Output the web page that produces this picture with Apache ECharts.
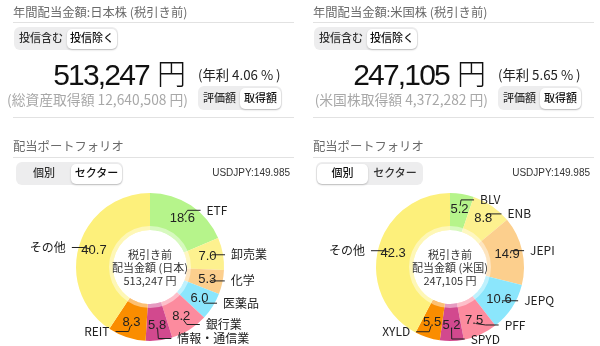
<!DOCTYPE html>
<html><head><meta charset="utf-8">
<script src="https://cdn.jsdelivr.net/npm/echarts@6/dist/echarts.min.js"></script>
<style>
html,body{margin:0;padding:0;width:600px;height:346px;overflow:hidden;background:#fff;font-family:"Noto Sans CJK JP","Noto Sans",sans-serif;color:#222;}
#chart{position:absolute;left:0;top:0;width:600px;height:346px;}
.t{position:absolute;white-space:nowrap;line-height:1;}
.hr{position:absolute;height:1px;background:#e2e2e2;}
.tg{position:absolute;background:#ededee;border-radius:6px;}
.sel{position:absolute;background:#fff;border-radius:5px;box-shadow:0 1px 2px rgba(0,0,0,0.22);}
.big{font-family:"Liberation Sans",Arial,sans-serif;font-size:30px;letter-spacing:-1.8px;color:#111;}
.big .yen{font-family:"Noto Sans CJK JP";font-size:29px;font-weight:300;letter-spacing:0;margin-left:8px;}
</style></head>
<body>
<div id="chart"></div>
<div id="ui"></div>
<script>
// ---- data ----
const jpNames  = ['ETF','卸売業','化学','医薬品','銀行業','情報・通信業','REIT','その他'];
const jpValues = [18.6, 7.0, 5.3, 6.0, 8.2, 5.8, 8.3, 40.7];
const usNames  = ['BLV','ENB','JEPI','JEPQ','PFF','SPYD','XYLD','その他'];
const usValues = [5.2, 8.8, 14.9, 10.6, 7.5, 5.2, 5.5, 42.3];
const sliceColors = ['#b6f48b','#fdf18f','#fccf8d','#8be6fc','#fc8b9e','#d2498e','#fa8d00','#fdf07b'];

const panels = [
  {ox:0, header:'年間配当金額:日本株 (税引き前)', big:'513,247', yieldText:'(年利 4.06 % )',
   sub:'(総資産取得額 12,640,508 円)', tab:'セクター', center:['税引き前','配当金額 (日本)','513,247 円'],
   names:jpNames, values:jpValues},
  {ox:300, header:'年間配当金額:米国株 (税引き前)', big:'247,105', yieldText:'(年利 5.65 % )',
   sub:'(米国株取得額 4,372,282 円)', tab:'個別', center:['税引き前','配当金額 (米国)','247,105 円'],
   names:usNames, values:usValues}
];
const usdjpy = 'USDJPY:149.985';

// ---- UI chrome ----
const ui = document.getElementById('ui');
function el(cls, css, html){const d=document.createElement('div');d.className=cls;Object.assign(d.style,css);if(html!=null)d.innerHTML=html;ui.appendChild(d);return d;}
function toggle(x,y,w,h,labels,selIdx,selW,fs){
  el('tg',{left:x+'px',top:y+'px',width:w+'px',height:h+'px'});
  const sx = selIdx===0 ? x+1 : x+w-selW-1;
  el('sel',{left:sx+'px',top:(y+1.5)+'px',width:selW+'px',height:(h-3)+'px'});
  labels.forEach((l,i)=>{
    const cx = i===0 ? (selIdx===0? sx+selW/2 : x+(w-selW)/2) : (selIdx===1? sx+selW/2 : x+selW+(w-selW)/2);
    el('t',{left:(cx-40)+'px',width:'80px',textAlign:'center',top:(y+h/2-fs/2-1)+'px',fontSize:fs+'px',fontWeight:'500',color:i===selIdx?'#111':'#333'},l);
  });
}
panels.forEach(p=>{
  const ox=p.ox;
  el('t',{left:(ox+13)+'px',top:'6px',fontSize:'12.3px',color:'#6a6a6a'},p.header);
  el('hr',{left:(ox+13)+'px',top:'22px',width:'281px'});
  toggle(ox+14,27,104,23,['投信含む','投信除く'],1,50,11);
  el('t big',{right:(600-ox-186)+'px',top:'58px'},p.big+'<span class="yen">円</span>');
  el('t',{left:(ox+198)+'px',top:'68px',fontSize:'13.3px',color:'#222'},p.yieldText);
  el('t',{right:(600-ox-188)+'px',top:'93px',fontSize:'13.8px',color:'#a8a8a8'},p.sub);
  toggle(ox+198,86,84,24,['評価額','取得額'],1,41,11);
  el('hr',{left:(ox+13)+'px',top:'117px',width:'281px'});
  el('t',{left:(ox+13)+'px',top:'140px',fontSize:'12.3px',color:'#6a6a6a'},'配当ポートフォリオ');
  el('hr',{left:(ox+13)+'px',top:'157px',width:'281px'});
  toggle(ox+16,162,107,23,['個別','セクター'],p.tab==='個別'?0:1,51,11);
  el('t',{right:(600-ox-290)+'px',top:'168px',fontSize:'10px',color:'#333',fontFamily:'"Liberation Sans",Arial,sans-serif'},usdjpy);
  p.center.forEach((c,i)=>{
    el('t',{left:(ox+100)+'px',width:'100px',textAlign:'center',top:(249+i*13)+'px',fontSize:'11px',color:'#333'},c);
  });
});

// ---- chart ----
const chart = echarts.init(document.getElementById('chart'),null,{renderer:'canvas'});
const series=[];
panels.forEach(p=>{
  const c=[p.ox+150,267];
  const data=p.names.map((n,i)=>({name:n,value:p.values[i],itemStyle:{color:sliceColors[i]}}));
  series.push({type:'pie',center:c,radius:[37,74],startAngle:90,clockwise:true,silent:true,z:2,
    data:data,itemStyle:{borderWidth:0},
    label:{show:true,position:'inside',formatter:q=>q.value.toFixed(1),fontSize:13,color:'#222',
      fontFamily:'"Liberation Sans",Arial,sans-serif'},
    labelLine:{show:false}});
  series.push({type:'pie',center:c,radius:[37,41],silent:true,z:3,
    data:[{value:1,itemStyle:{color:'rgba(255,255,255,0.45)'}}],label:{show:false},labelLine:{show:false}});
  series.push({type:'pie',center:c,radius:[0,62],startAngle:90,clockwise:true,silent:true,z:4,
    data:p.names.map((n,i)=>({name:n,value:p.values[i]})),
    itemStyle:{color:'rgba(0,0,0,0)'},
    label:{show:true,position:'outside',formatter:'{b}',fontSize:12,color:'#222',
      fontFamily:'"Noto Sans CJK JP",sans-serif',padding:[0,1]},
    labelLine:{show:true,length:6,length2:13,lineStyle:{color:'#222',width:1}}});
});
chart.setOption({animation:false,series:series});
</script>
</body></html>
